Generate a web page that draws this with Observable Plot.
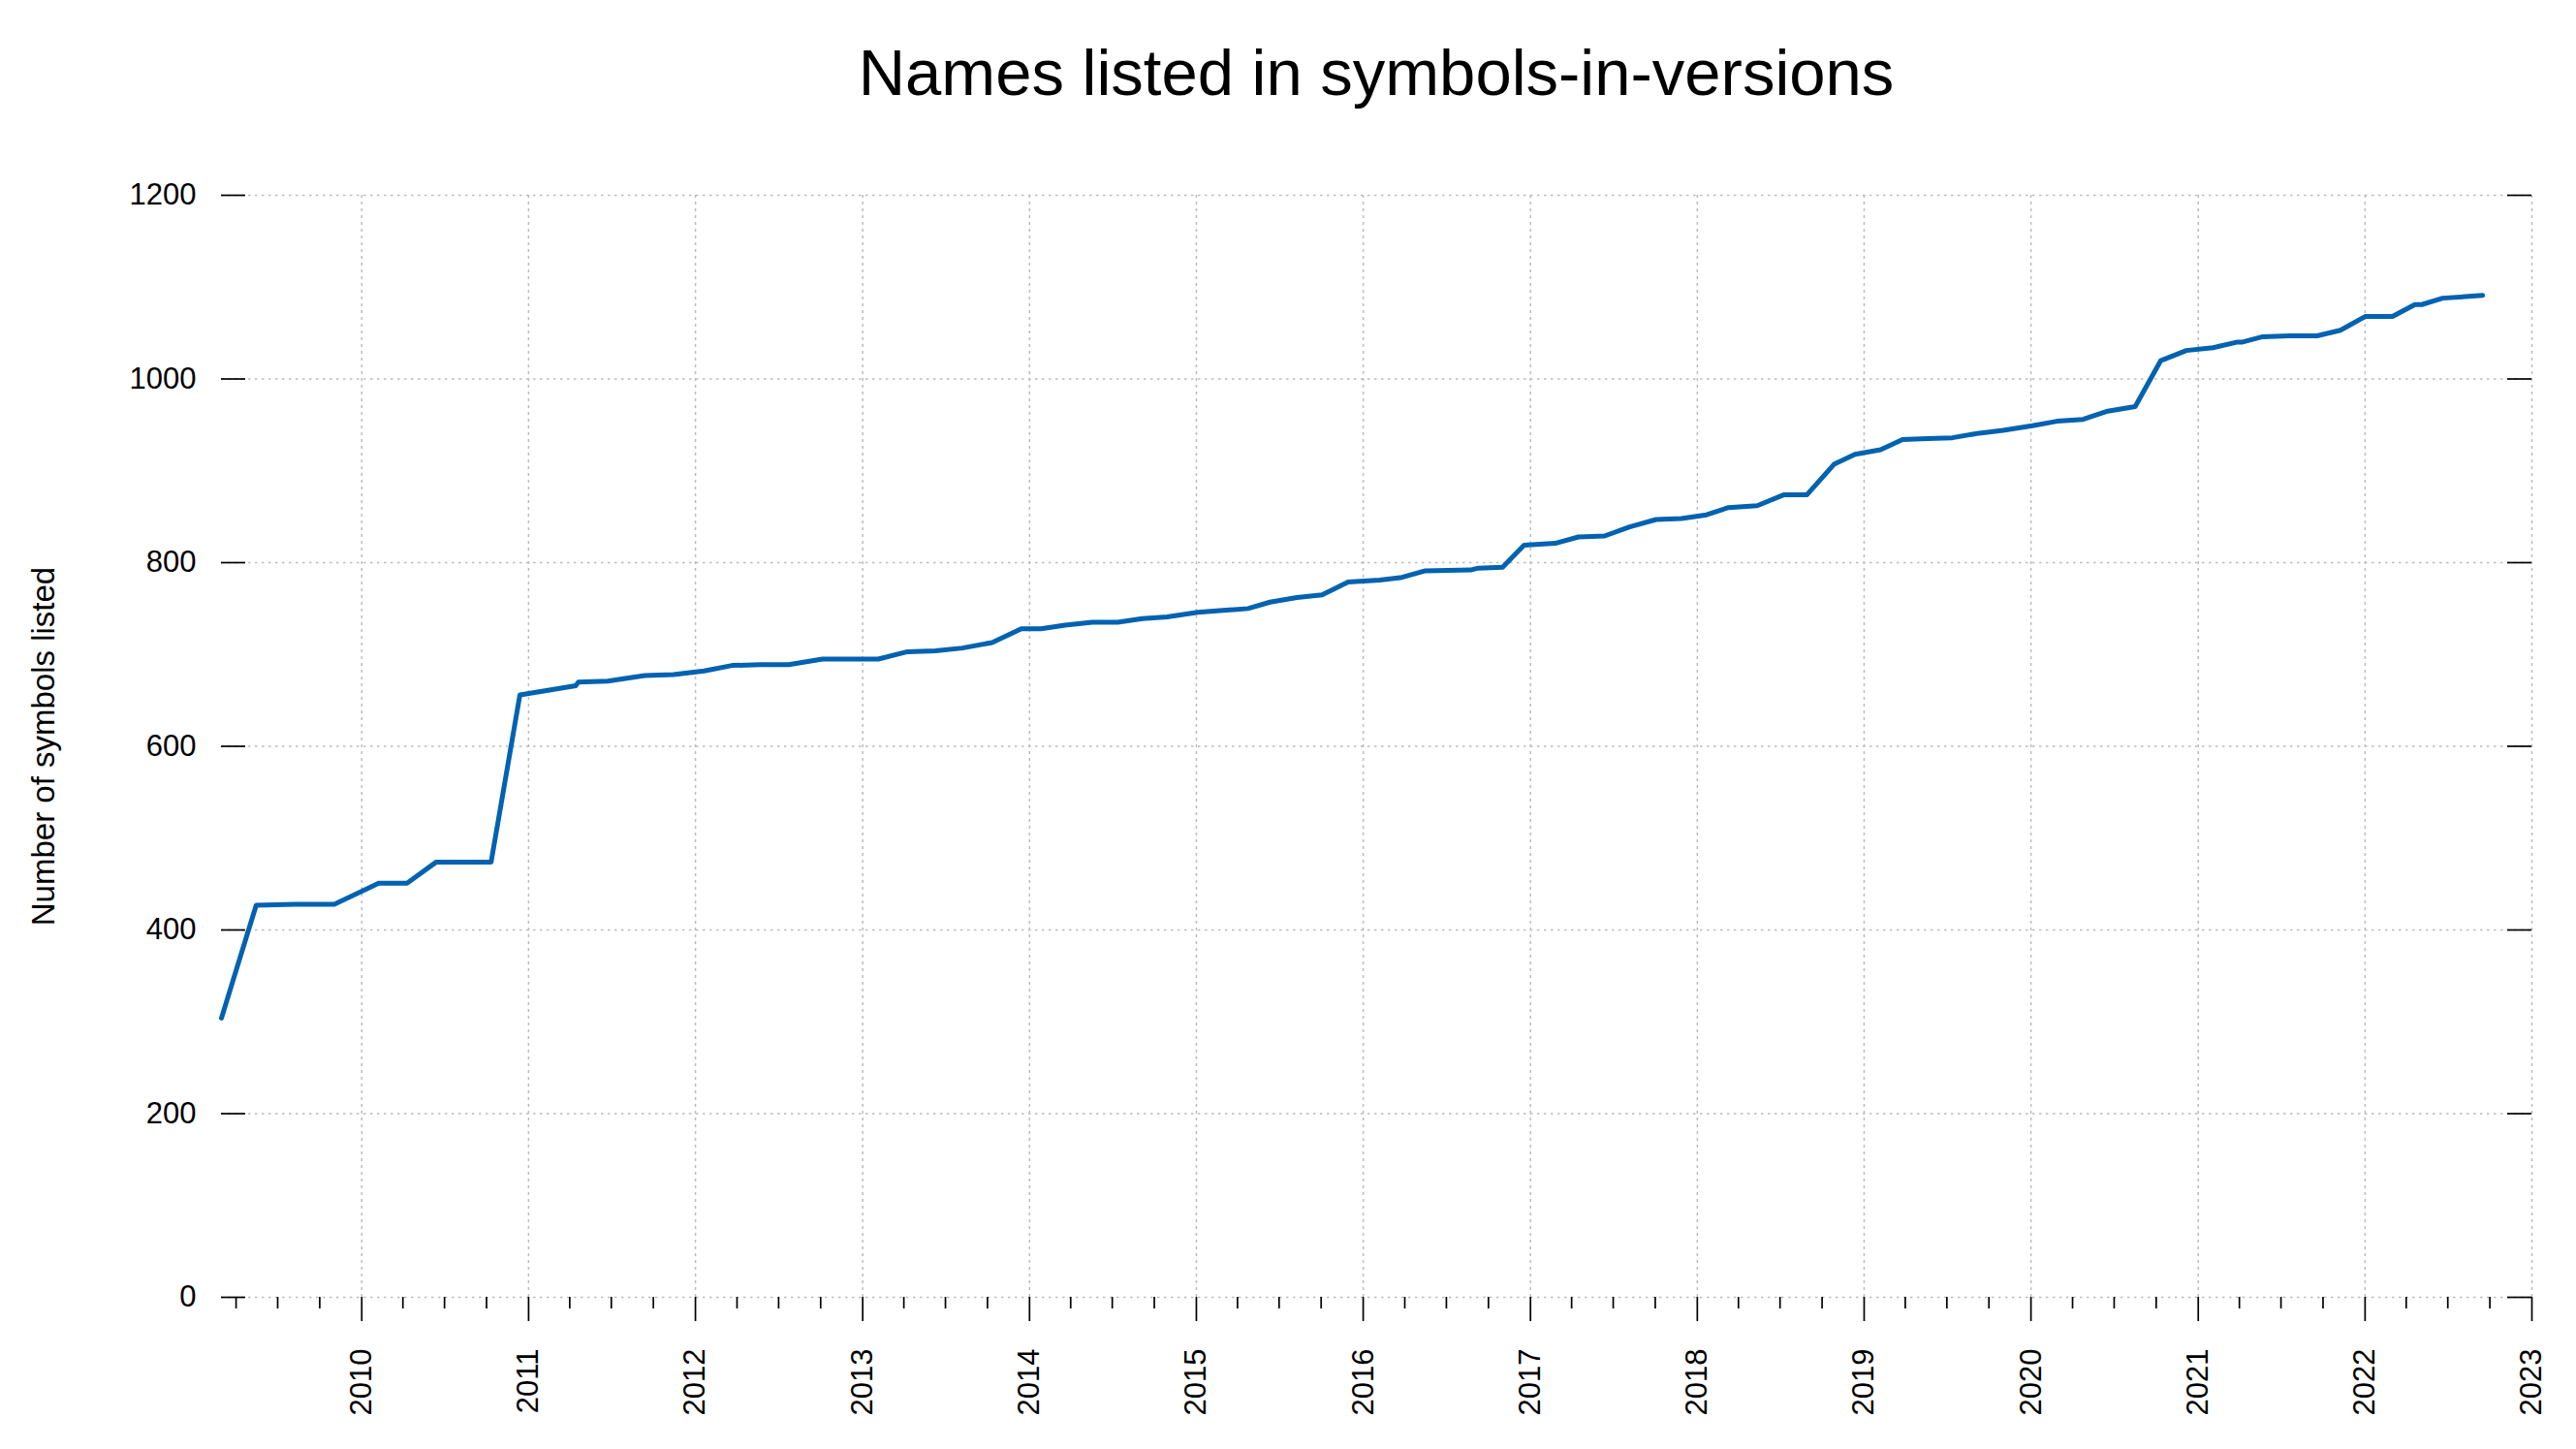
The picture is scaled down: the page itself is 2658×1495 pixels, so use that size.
<!DOCTYPE html>
<html>
<head>
<meta charset="utf-8">
<script src="https://cdn.jsdelivr.net/npm/d3@7"></script>
<script src="https://cdn.jsdelivr.net/npm/@observablehq/plot@0.6"></script>
<style>
  html, body { margin: 0; padding: 0; background: #fff; }
  #head { position: relative; width: 2658px; height: 140px; }
  #title { position: absolute; left: 228px; width: 2384px; top: 41px; text-align: center;
           font: 67px/67px "Liberation Sans", Arial, sans-serif; color: #000; }
</style>
</head>
<body>
<div id="head"><div id="title"></div></div>
<div id="chart"></div>
<script>
const title = "Names listed in symbols-in-versions";
const yLabel = "Number of symbols listed";

const dates = [
  "2009-02-28","2009-05-15","2009-08-08","2009-11-02","2010-02-07","2010-04-10","2010-06-13","2010-10-11",
  "2010-12-13","2011-04-14","2011-04-20","2011-06-23","2011-09-12","2011-11-14","2012-01-20","2012-03-21",
  "2012-05-22","2012-07-23","2012-10-05","2013-02-04","2013-04-09","2013-06-09","2013-08-07","2013-10-11",
  "2013-12-14","2014-01-26","2014-03-20","2014-05-18","2014-07-13","2014-09-05","2014-10-29","2015-01-04",
  "2015-02-28","2015-04-24","2015-06-11","2015-08-09","2015-10-03","2015-11-29","2016-02-06","2016-03-26",
  "2016-05-14","2016-08-23","2016-09-09","2016-11-01","2016-12-18","2017-02-24","2017-04-16","2017-06-12",
  "2017-08-06","2017-10-03","2017-11-27","2018-01-21","2018-03-10","2018-05-12","2018-07-10","2018-08-29",
  "2018-10-27","2018-12-12","2019-02-06","2019-03-26","2019-05-20","2019-07-13","2019-09-10","2019-11-01",
  "2020-01-04","2020-02-27","2020-04-24","2020-06-17","2020-08-16","2020-10-11","2020-12-06","2021-02-02",
  "2021-03-26","2021-04-06","2021-05-22","2021-07-19","2021-09-18","2021-11-08","2022-01-01","2022-03-02",
  "2022-04-20","2022-05-05","2022-06-20","2022-09-15"
];
const counts = [
  304, 427, 428, 428, 451, 451, 474, 474,
  656, 666, 670, 671, 677, 678, 682, 688,
  689, 689, 695, 695, 703, 704, 707, 713,
  728, 728, 732, 735, 735, 739, 741, 746,
  748, 750, 757, 762, 765, 779, 781, 784,
  791, 792, 794, 795, 819, 821, 828, 829,
  839, 847, 848, 852, 860, 862, 874, 874,
  907, 918, 923, 934, 935, 936, 941, 944,
  949, 954, 956, 965, 970, 1020, 1031, 1034,
  1040, 1040, 1046, 1047, 1047, 1053, 1068, 1068,
  1081, 1081, 1088, 1091
];
const yTicks = [0, 200, 400, 600, 800, 1000, 1200];
const xStart = "2009-02-28";
const xEnd = "2023-01-01";

document.getElementById("title").textContent = title;

const W = 2658, H = 1355;
const mL = 228, mR = 46, mT = 61, mB = 157;
const plotW = W - mL - mR, plotH = H - mT - mB;

const data = dates.map((d, i) => ({date: new Date(d), n: counts[i]}));
const x0 = new Date(xStart), x1 = new Date(xEnd);
const years = d3.utcYear.range(d3.utcYear.ceil(x0), d3.utcDay.offset(x1, 1));
const quarters = d3.utcMonth.every(3).range(d3.utcMonth.ceil(x0), x1).filter(d => d.getUTCMonth() !== 0);

const font = "'Liberation Sans', Arial, sans-serif";
const gridStyle = {stroke: "#bcbcbc", strokeOpacity: 1, strokeWidth: 1.5};
const tickStyle = {stroke: "#000", strokeWidth: 1.7};

const chart = Plot.plot({
  width: W, height: H,
  marginLeft: mL, marginRight: mR, marginTop: mT, marginBottom: mB,
  style: {fontFamily: font, fontSize: "31px", background: "#fff", color: "#000"},
  x: {type: "utc", domain: [x0, x1]},
  y: {domain: [0, 1200]},
  marks: [
    Plot.gridY(yTicks, {...gridStyle, strokeDasharray: "2.5,4.5"}),
    Plot.gridX(years, {...gridStyle, strokeDasharray: "3,4"}),
    Plot.line(data, {x: "date", y: "n", stroke: "#0062b0", strokeWidth: 5, strokeLinejoin: "round"}),
    Plot.tickY(yTicks, {y: d => d, insetRight: plotW - 25, ...tickStyle}),
    Plot.tickY(yTicks, {y: d => d, insetLeft: plotW - 25, ...tickStyle}),
    Plot.tickX(quarters, {x: d => d, insetTop: plotH, insetBottom: -12, ...tickStyle}),
    Plot.axisX(years, {
      tickSize: 25, tickPadding: 28, tickRotate: -90, textAnchor: "end", lineAnchor: "middle",
      tickFormat: d3.utcFormat("%Y"), fontSize: 31, strokeWidth: 1.7, label: null
    }),
    Plot.axisY(yTicks, {tickSize: 0, tickPadding: 26, fontSize: 31, tickFormat: d => String(d), label: null}),
    Plot.text([yLabel], {text: d => d, frameAnchor: "left", rotate: -90, dx: -173, textAnchor: "middle", lineAnchor: "bottom", fontSize: 33, fill: "#000"})
  ]
});
document.getElementById("chart").appendChild(chart);
</script>
</body>
</html>
